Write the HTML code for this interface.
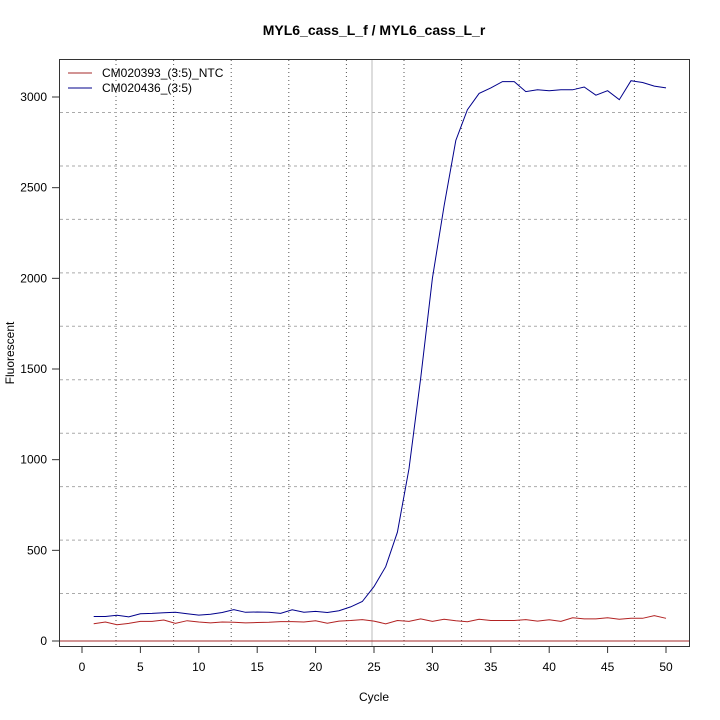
<!DOCTYPE html><html><head><style>body{margin:0;background:#fff}svg{display:block;font-family:"Liberation Sans",sans-serif}</style></head><body>
<svg id="s" width="720" height="720" xmlns="http://www.w3.org/2000/svg">
<rect width="720" height="720" fill="#fff"/>
<text x="374" y="35" font-size="14" font-weight="bold" text-anchor="middle">MYL6_cass_L_f / MYL6_cass_L_r</text>
<text x="374" y="701" font-size="12" text-anchor="middle">Cycle</text>
<text transform="translate(14,353) rotate(-90)" font-size="12" text-anchor="middle">Fluorescent</text>
<g id="g"></g>
<rect x="59.5" y="59.5" width="630" height="587" fill="none" stroke="#333" stroke-width="1"/>
<line x1="68" y1="73" x2="92" y2="73" stroke="#a52a2a"/>
<line x1="68" y1="88" x2="92" y2="88" stroke="#00008b"/>
<text x="102" y="77" font-size="12">CM020393_(3:5)_NTC</text>
<text x="102" y="92" font-size="12">CM020436_(3:5)</text>
</svg>
<script>
var g=document.getElementById('g'),h='';
function X(c){return 82+c*11.68}function Y(v){return 641-v*0.18133}
for(var k=0;k<10;k++){var x=116+57.6*k;h+='<line x1="'+x+'" y1="60" x2="'+x+'" y2="646" stroke="#555" stroke-dasharray="1,3"/>';var y=112.5+53.45*k;h+='<line x1="60" y1="'+y+'" x2="689" y2="'+y+'" stroke="#aaa" stroke-dasharray="3,3"/>';}
h+='<line x1="372" y1="60" x2="372" y2="646" stroke="#bbb"/>';
h+='<line x1="60" y1="641" x2="689" y2="641" stroke="#a52a2a"/>';
for(var c=0;c<=50;c+=5){var x=X(c);h+='<line x1="'+x+'" y1="646" x2="'+x+'" y2="653" stroke="#333"/><text x="'+x+'" y="671" font-size="12" text-anchor="middle">'+c+'</text>';}
for(var v=0;v<=3000;v+=500){var y=Y(v);h+='<line x1="52" y1="'+y+'" x2="59" y2="'+y+'" stroke="#333"/><text x="47" y="'+(y+4)+'" font-size="12" text-anchor="end">'+v+'</text>';}
var b=[135,135,142,133,150,152,156,158,150,143,148,157,173,158,160,158,152,172,158,163,157,167,188,218,300,410,600,950,1450,2000,2400,2760,2930,3020,3050,3085,3085,3030,3040,3035,3040,3040,3055,3010,3035,2985,3090,3080,3060,3050];
var r=[95,105,90,97,108,108,116,97,112,105,100,105,103,100,102,103,107,107,105,112,98,110,113,118,110,95,113,108,122,108,120,112,106,120,113,113,113,118,110,117,108,128,122,122,128,120,125,125,140,125];
function pl(a,col){return '<polyline fill="none" stroke="'+col+'" points="'+a.map(function(v,i){return X(i+1).toFixed(1)+','+Y(v).toFixed(1)}).join(' ')+'"/>';}
h+=pl(r,'#b22222')+pl(b,'#00008b');
g.innerHTML=h;
</script></body></html>
